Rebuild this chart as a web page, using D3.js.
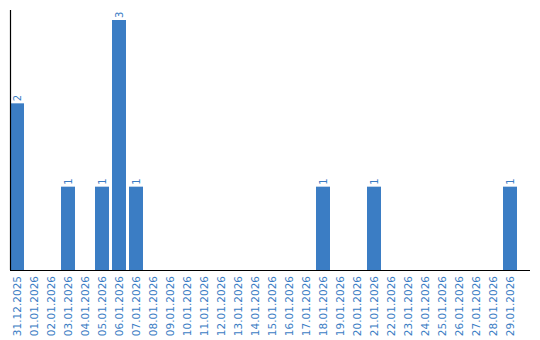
<!DOCTYPE html>
<html>
<head>
<meta charset="utf-8">
<script src="https://cdn.jsdelivr.net/npm/d3@7"></script>
<style>
  body { margin: 0; background: #fff; }
  text { font-family: "DejaVu Sans", Verdana, sans-serif; }
</style>
</head>
<body>
<svg id="chart" width="540" height="340"></svg>
<script>
let dates = ["31.12.2025", "01.01.2026", "02.01.2026", "03.01.2026", "04.01.2026", "05.01.2026",
  "06.01.2026", "07.01.2026", "08.01.2026", "09.01.2026", "10.01.2026", "11.01.2026",
  "12.01.2026", "13.01.2026", "14.01.2026", "15.01.2026", "16.01.2026", "17.01.2026",
  "18.01.2026", "19.01.2026", "20.01.2026", "21.01.2026", "22.01.2026", "23.01.2026",
  "24.01.2026", "25.01.2026", "26.01.2026", "27.01.2026", "28.01.2026", "29.01.2026"];
let counts = [2, 0, 0, 1, 0, 1, 3, 1, 0, 0, 0, 0, 0, 0, 0, 0, 0, 0, 1, 0, 0, 1, 0, 0, 0, 0, 0, 0, 0, 1];

const blue = "#3b7dc4";
const svg = d3.select("#chart");
let margin = ({ top: 10, left: 10, bottom: 70, right: 10 });
let baseY = 270;

let x = d3.scaleBand()
  .domain(dates)
  .range([10, 517])
  .paddingInner(3 / 17)
  .paddingOuter(0)
  .align(0);

let y = d3.scaleLinear()
  .domain([0, 3])
  .range([baseY, 20]);

let data = dates.map((d, i) => ({ date: d, value: counts[i] }));

// bars
svg.append("g")
  .selectAll("rect")
  .data(data.filter(d => d.value > 0))
  .join("rect")
  .attr("x", d => x(d.date))
  .attr("width", x.bandwidth())
  .attr("y", d => y(d.value))
  .attr("height", d => y(0) - y(d.value))
  .attr("fill", blue);

// value labels
svg.append("g")
  .selectAll("text")
  .data(data.filter(d => d.value > 0))
  .join("text")
  .attr("transform", d => `translate(${x(d.date) + x.bandwidth() / 2 + 3.5},${y(d.value) - 2}) rotate(-90)`)
  .attr("fill", blue)
  .attr("font-size", "10px")
  .text(d => d.value);

// x axis
let xAxis = g => g
  .attr("transform", `translate(0,${baseY})`)
  .call(d3.axisBottom(x).tickSize(0).tickSizeOuter(0))
  .call(g => g.select(".domain").attr("d", `M10,0.5H530`).attr("stroke", "#000").attr("stroke-width", 1.2))
  .call(g => g.selectAll(".tick text")
    .attr("fill", blue)
    .attr("font-size", "10.5px")
    .attr("font-family", "DejaVu Sans, Verdana, sans-serif")
    .attr("text-anchor", "end")
    .attr("dy", null)
    .attr("y", 0)
    .attr("transform", "translate(3.5,6) rotate(-90)"));

svg.append("g").call(xAxis);

// y axis line
svg.append("line")
  .attr("x1", 10.5).attr("x2", 10.5)
  .attr("y1", margin.top).attr("y2", baseY)
  .attr("stroke", "#000")
  .attr("stroke-width", 1.2);
</script>
</body>
</html>
